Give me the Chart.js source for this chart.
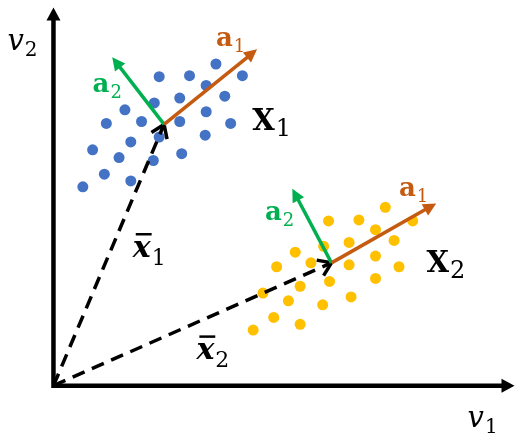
<!DOCTYPE html>
<html>
<head>
<meta charset="utf-8">
<script src="https://cdn.jsdelivr.net/npm/chart.js@4"></script>
<style>
  html, body { margin: 0; background: #fff; }
  #wrap { width: 521px; height: 437px; }
</style>
</head>
<body>
<div id="wrap"><canvas id="chart" width="521" height="437"></canvas></div>
<script>
// cluster X1 (blue) and X2 (yellow), coordinates in the v1/v2 plane
const blueX   = [166, 108, 139, 193, 156, 175, 129, 103, 73, 156, 54, 90, 129, 181, 155, 108, 79, 40, 131, 67, 102, 52, 79, 30];
const blueY   = [330, 317, 318, 318, 308, 297, 295, 290, 283, 281, 269, 271, 271, 269, 257, 255, 250, 242, 238, 234, 231, 217, 210, 204];
const yellowX = [339, 281, 312, 367, 329, 348, 302, 276, 247, 329, 228, 263, 302, 353, 329, 282, 252, 214, 304, 240, 275, 225, 252, 204];
const yellowY = [183, 169, 170, 169, 160, 149, 147, 143, 137, 133, 122, 126, 124, 122, 110, 107, 102, 95, 91, 87, 83, 70, 63, 57];

// means and principal directions (tips of a1 / a2)
const mean1 = [113, 268];
const mean2 = [284, 126];
const a1Tip1 = [208, 345];
const a2Tip1 = [60, 337];
const a1Tip2 = [391, 187];
const a2Tip2 = [244, 202];

// axis ends
const origin = [0, 0];
const v1End = [471, 0];
const v2End = [0, 388];

// text: main, subscript, anchor (left / baseline)
const textLabels = [
    { main: 'v', sub: '2', at: [-47, 344], kind: 'axis' },
    { main: 'v', sub: '1', at: [423, -42], kind: 'axis' },
    { main: 'a', sub: '1', at: [166, 348], kind: 'a1' },
    { main: 'a', sub: '2', at: [40, 301], kind: 'a2' },
    { main: 'a', sub: '1', at: [353, 195], kind: 'a1' },
    { main: 'a', sub: '2', at: [216, 170], kind: 'a2' },
    { main: 'X', sub: '1', at: [203, 262], kind: 'set' },
    { main: 'X', sub: '2', at: [381, 117], kind: 'set' },
    { main: 'x', sub: '1', at: [81, 132], kind: 'mean' },
    { main: 'x', sub: '2', at: [146, 27], kind: 'mean' }
];

const ORANGE = '#C55A11', GREEN = '#00B050', BLUE = '#4472C4', GOLD = '#FFC000';

const textStyle = {
    axis: { font: 'italic 29px "DejaVu Serif"', subFont: '20px "DejaVu Serif"', drop: 6, color: '#000' },
    a1:   { font: 'bold 26px "DejaVu Serif"', subFont: '18px "DejaVu Serif"', drop: 6, color: ORANGE },
    a2:   { font: 'bold 26px "DejaVu Serif"', subFont: '18px "DejaVu Serif"', drop: 6, color: GREEN },
    set:  { font: 'bold 29px "DejaVu Serif"', subFont: '24px "DejaVu Serif"', drop: 6, color: '#000' },
    mean: { font: 'bold italic 30px "DejaVu Serif"', subFont: '22px "DejaVu Serif"', drop: 8, color: '#000', bar: 24 }
};

function toPts(xs, ys){ return xs.map((x, i) => ({ x: x, y: ys[i] })); }

function arrowHead(ctx, from, to, len, half, color){
    const ang = Math.atan2(to[1] - from[1], to[0] - from[0]);
    ctx.fillStyle = color;
    ctx.beginPath();
    ctx.moveTo(to[0], to[1]);
    ctx.lineTo(to[0] - len * Math.cos(ang) + half * Math.sin(ang), to[1] - len * Math.sin(ang) - half * Math.cos(ang));
    ctx.lineTo(to[0] - len * Math.cos(ang) - half * Math.sin(ang), to[1] - len * Math.sin(ang) + half * Math.cos(ang));
    ctx.closePath();
    ctx.fill();
}

function solidArrow(ctx, from, to, color, lw, len, half){
    const ang = Math.atan2(to[1] - from[1], to[0] - from[0]);
    ctx.strokeStyle = color; ctx.lineWidth = lw; ctx.setLineDash([]);
    ctx.beginPath();
    ctx.moveTo(from[0], from[1]);
    ctx.lineTo(to[0] - (len - 2) * Math.cos(ang), to[1] - (len - 2) * Math.sin(ang));
    ctx.stroke();
    arrowHead(ctx, from, to, len, half, color);
}

function dashedArrow(ctx, from, to){
    const ang = Math.atan2(to[1] - from[1], to[0] - from[0]);
    ctx.strokeStyle = '#000'; ctx.lineWidth = 3.5;
    ctx.setLineDash([13, 8]);
    ctx.beginPath();
    ctx.moveTo(from[0], from[1]);
    ctx.lineTo(to[0] - 2 * Math.cos(ang), to[1] - 2 * Math.sin(ang));
    ctx.stroke();
    ctx.setLineDash([]);
    // open chevron head
    const arm = 15, spread = 0.6;
    ctx.lineJoin = 'miter';
    ctx.beginPath();
    ctx.moveTo(to[0] - arm * Math.cos(ang - spread), to[1] - arm * Math.sin(ang - spread));
    ctx.lineTo(to[0], to[1]);
    ctx.lineTo(to[0] - arm * Math.cos(ang + spread), to[1] - arm * Math.sin(ang + spread));
    ctx.stroke();
}

const diagram = {
    id: 'diagram',
    afterDatasetsDraw(chart){
        const ctx = chart.ctx, sx = chart.scales.x, sy = chart.scales.y;
        const P = p => [sx.getPixelForValue(p[0]), sy.getPixelForValue(p[1])];
        ctx.save();

        // axes
        const o = P(origin), xe = P(v1End), ye = P(v2End);
        ctx.strokeStyle = '#000'; ctx.lineWidth = 4.5; ctx.lineJoin = 'miter'; ctx.lineCap = 'butt';
        ctx.beginPath();
        ctx.moveTo(ye[0], ye[1] + 11);
        ctx.lineTo(o[0], o[1]);
        ctx.lineTo(xe[0] - 11, xe[1]);
        ctx.stroke();
        arrowHead(ctx, o, ye, 13, 7, '#000');
        arrowHead(ctx, o, xe, 13, 7, '#000');

        // mean vectors
        dashedArrow(ctx, o, P(mean1));
        dashedArrow(ctx, o, P(mean2));

        // principal directions
        solidArrow(ctx, P(mean1), P(a2Tip1), GREEN, 3.5, 13, 6.5);
        solidArrow(ctx, P(mean1), P(a1Tip1), ORANGE, 3.5, 13, 6.5);
        solidArrow(ctx, P(mean2), P(a2Tip2), GREEN, 3.5, 13, 6.5);
        solidArrow(ctx, P(mean2), P(a1Tip2), ORANGE, 3.5, 13, 6.5);

        // labels
        ctx.textAlign = 'left'; ctx.textBaseline = 'alphabetic';
        textLabels.forEach(l => {
            const st = textStyle[l.kind];
            const p = P(l.at);
            ctx.fillStyle = st.color;
            ctx.font = st.font;
            ctx.fillText(l.main, p[0], p[1]);
            const w = ctx.measureText(l.main).width;
            if (st.bar) ctx.fillRect(p[0] + 3, p[1] - st.bar, w - 2, 2.5);
            ctx.font = st.subFont;
            ctx.fillText(l.sub, p[0] + w + 1, p[1] + st.drop);
        });
        ctx.restore();
    }
};

new Chart(document.getElementById('chart'), {
    type: 'scatter',
    data: {
        datasets: [
            { label: 'X1', data: toPts(blueX, blueY), backgroundColor: BLUE, borderWidth: 0, pointRadius: 5.5 },
            { label: 'X2', data: toPts(yellowX, yellowY), backgroundColor: GOLD, borderWidth: 0, pointRadius: 5.5 }
        ]
    },
    options: {
        responsive: false,
        animation: false,
        layout: { padding: 0 },
        scales: {
            x: { type: 'linear', min: -49, max: 472, display: false },
            y: { type: 'linear', min: -47, max: 390, display: false }
        },
        plugins: { legend: { display: false }, tooltip: { enabled: false } }
    },
    plugins: [diagram]
});
</script>
</body>
</html>
